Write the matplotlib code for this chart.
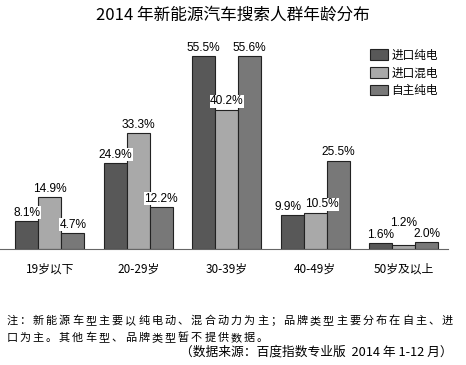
import matplotlib.pyplot as plt
import numpy as np

plt.rcParams['font.family'] = ['Noto Sans CJK SC', 'DejaVu Sans']

categories = ['19岁以下', '20-29岁', '30-39岁', '40-49岁', '50岁及以上']
import_ev = [8.1, 24.9, 55.5, 9.9, 1.6]
import_hybrid = [14.9, 33.3, 40.2, 10.5, 1.2]
domestic_ev = [4.7, 12.2, 55.6, 25.5, 2.0]
series_names = ['进口纯电', '进口混电', '自主纯电']
colors = ['#585858', '#a9a9a9', '#787878']

note1 = '注：新能源车型主要以纯电动、混合动力为主；品牌类型主要分布在自主、进'
note2 = '口为主。其他车型、品牌类型暂不提供数据。'
source = '（数据来源：百度指数专业版  2014 年 1-12 月）'

fig = plt.figure(figsize=(4.66, 3.65), dpi=100)
ax = fig.add_axes([0.0, 0.318, 0.961, 0.570])

x = np.arange(len(categories))
w = 0.26
for i, (vals, name, c) in enumerate(zip([import_ev, import_hybrid, domestic_ev], series_names, colors)):
    pos = x + (i - 1) * w
    ax.bar(pos, vals, w, color=c, edgecolor='#222222', linewidth=0.8, label=name)
    for j, (p, v) in enumerate(zip(pos, vals)):
        off = 0.6
        dx = 0
        if v < 1.5:  # the tiny 1.2% bar: label lifted up as in the original
            off = 4.6
        if j == 3 and i < 2:  # 9.9% / 10.5% are pushed apart
            dx = -0.05 if i == 0 else 0.08
        ax.text(p + dx, v + off, f'{v}%', ha='center', va='bottom', fontsize=8.6,
                family=['Liberation Sans'], zorder=5,
                bbox=dict(facecolor='white', edgecolor='none', pad=0.3))

ax.set_xlim(-0.565, 4.5)
ax.set_ylim(0, 60)
ax.set_yticks([])
ax.set_xticks(x)
ax.set_xticklabels(categories, fontsize=8.5)
ax.tick_params(axis='x', length=0, pad=10)
for s in ['top', 'right', 'left']:
    ax.spines[s].set_visible(False)
ax.spines['bottom'].set_color('#666666')

ax.legend(loc='upper left', bbox_to_anchor=(0.815, 0.985), frameon=False, fontsize=8.4,
          handlelength=1.55, handleheight=1.0, handletextpad=0.3, labelspacing=0.4,
          borderaxespad=0)

fig.text(0.5, 0.957, '2014 年新能源汽车搜索人群年龄分布', ha='center', va='center',
         fontsize=12)

# footnote lines with wide character spacing like the original
step = 13.2 / 466
for line, yy in [(note1, 0.1205), (note2, 0.074)]:
    for k, ch in enumerate(line):
        fig.text(0.011 + (k + 0.5) * step, yy, ch, ha='center', va='center', fontsize=8)
fig.text(0.972, 0.036, source, ha='right', va='center', fontsize=9.2)

fig.savefig('out.png', dpi=100)
